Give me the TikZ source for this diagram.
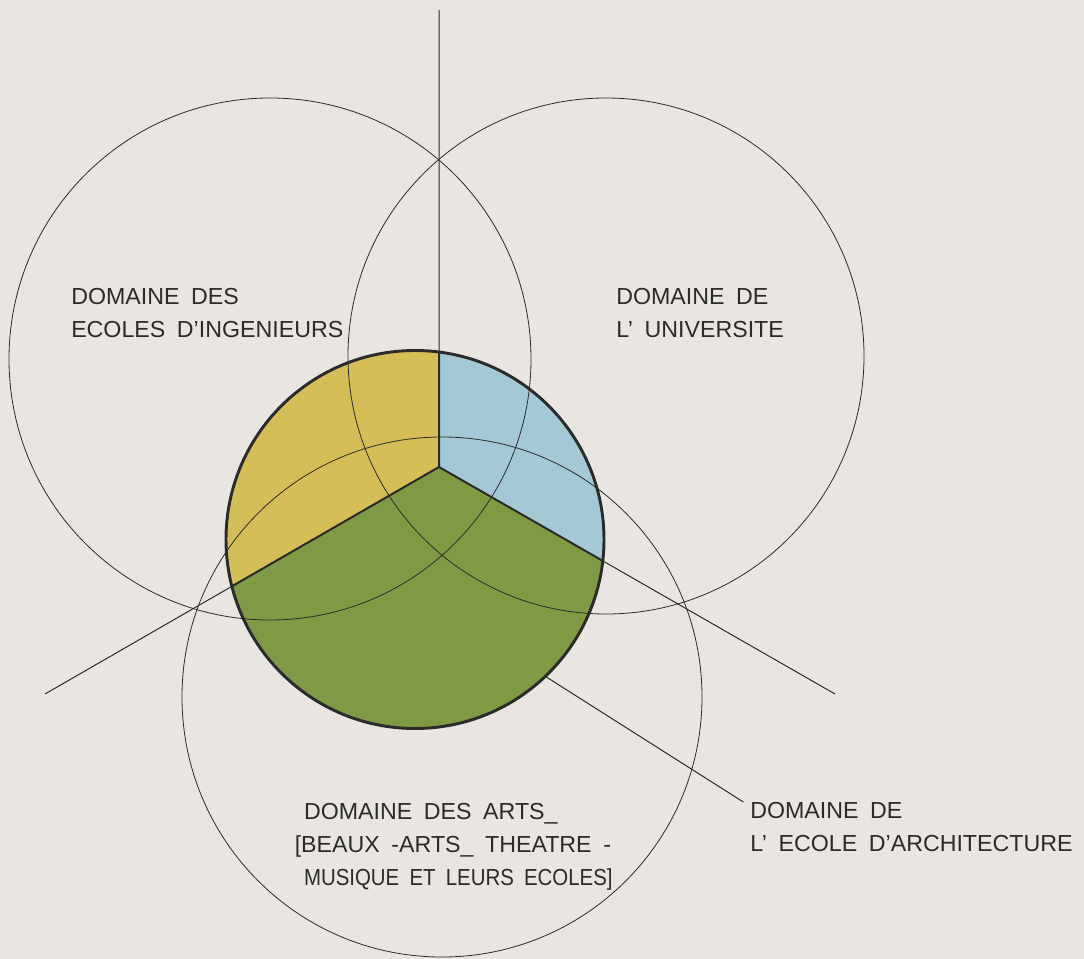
\documentclass[tikz,border=0pt]{standalone}
\usepackage{fontspec}
\setmainfont{Liberation Sans}[WordSpace=1.8]
\definecolor{DomPaper}{HTML}{E9E6E1}
\definecolor{DomInk}{HTML}{2B2B2B}
\definecolor{DomYellow}{HTML}{D5BE58}
\definecolor{DomBlue}{HTML}{A5C9D4}
\definecolor{DomGreen}{HTML}{7F9A45}
\tikzset{
  guide/.style={draw=DomInk, line width=0.75pt},
  ring/.style={draw=DomInk, line width=0.6pt},
  seam/.style={draw=DomInk, line width=1.5pt},
  rim/.style={draw=DomInk, line width=2.2pt},
  domtext/.style={anchor=north west, inner sep=0pt, align=left, text=DomInk},
}
\begin{document}
\begin{tikzpicture}[x=0.75pt,y=-0.75pt,font=\fontsize{17.4}{24.9}\selectfont]
  \fill[DomPaper] (0,0) rectangle (1084,959);
  \useasboundingbox (0,0) rectangle (1084,959);
  \coordinate (hub) at (439,467);
  \coordinate (mid) at (415,539.5);
  \coordinate (top) at (439,10);
  \coordinate (left) at (45,694);
  \coordinate (right) at (835,694);
  % coloured disc
  \begin{scope}
    \clip (mid) circle (189);
    \fill[DomGreen] (mid) circle (189);
    \fill[DomYellow,shift={(hub)}] (0,0) -- (150:400) -- (210:400) -- (270:400) -- cycle;
    \fill[DomBlue,shift={(hub)}] (0,0) -- (270:400) -- (330:400) -- (30:400) -- cycle;
    \draw[seam] (hub) -- (top) (hub) -- (left) (hub) -- (right);
  \end{scope}
  \draw[guide] (hub) -- (top) (hub) -- (left) (hub) -- (right);
  % the three domains
  \draw[ring] (270,359) circle (261);
  \draw[ring] (606,356) circle (258);
  \draw[ring] (442,697) circle (260);
  \draw[rim] (mid) circle (189);
  % labels
  \node[domtext] (ingen) at (71,288) {DOMAINE DES\\ECOLES D'INGENIEURS};
  \node[domtext] (univ) at (616,288) {DOMAINE DE\\L' UNIVERSITE};
  \node[domtext] (arts) at (294.5,803)
    {\hspace{0.4em}DOMAINE DES ARTS\_\\{}[BEAUX -ARTS\_ THEATRE -\\\hspace{0.4em}\scalebox{0.88}[1]{MUSIQUE ET LEURS ECOLES]}};
  \node[domtext] (archi) at (750,802) {DOMAINE DE\\L' ECOLE D'ARCHITECTURE};
  \coordinate (archfoot) at ([shift={(46.4:189)}]mid);
  \draw[guide] (archfoot) -- ([xshift=-5pt]archi.north west);
\end{tikzpicture}
\end{document}
